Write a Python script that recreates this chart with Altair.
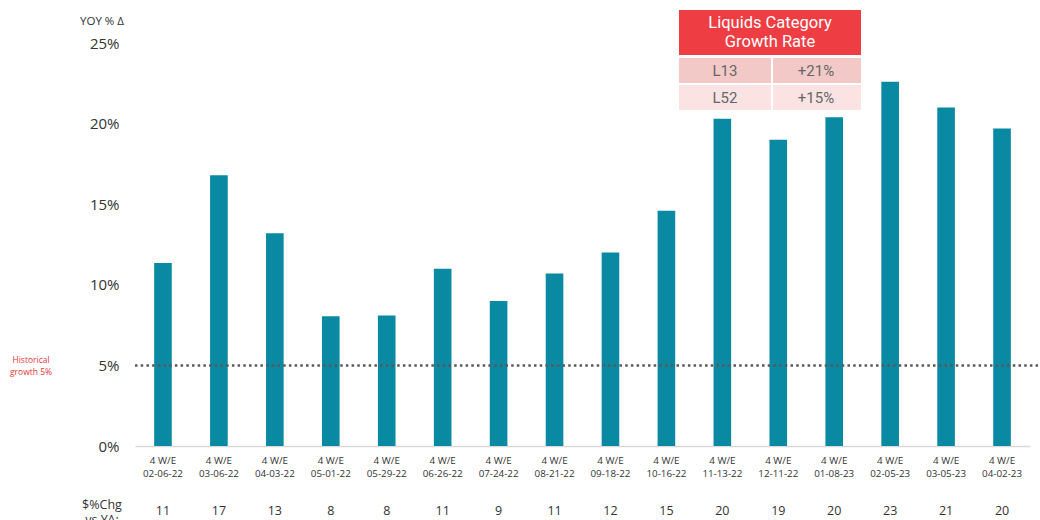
import altair as alt
import pandas as pd

# Four-week periods and year-over-year dollar growth (%)
periods = ["02-06-22", "03-06-22", "04-03-22", "05-01-22", "05-29-22", "06-26-22",
           "07-24-22", "08-21-22", "09-18-22", "10-16-22", "11-13-22", "12-11-22",
           "01-08-23", "02-05-23", "03-05-23", "04-02-23"]
growth = [11.35, 16.8, 13.2, 8.05, 8.1, 11.0, 9.0, 10.7, 12.0, 14.6,
          20.3, 19.0, 20.4, 22.6, 21.0, 19.7]
historical = 5
y_ticks = [0, 5, 10, 15, 20, 25]

# Summary table rows
table_periods = ["L13", "L52"]
table_rates = ["+21%", "+15%"]

df = pd.DataFrame({"period": periods, "growth": growth})

TEAL = "#0A89A3"
RED = "#EE3E43"
TEXT = "#333333"
FONT = "Open Sans"

x_enc = alt.X("period:N", sort=periods, title=None,
              scale=alt.Scale(paddingInner=0.685, paddingOuter=0.3425),
              axis=alt.Axis(labelAngle=0, labelExpr="['4 W/E', datum.label]",
                            labelFontSize=9.8, labelColor=TEXT, labelFont=FONT,
                            labelLineHeight=13, labelPadding=9, ticks=False,
                            domainColor="#D9D9D9", domainWidth=1.5))
y_enc = alt.Y("growth:Q", title=None,
              scale=alt.Scale(domain=[0, 25], nice=False),
              axis=alt.Axis(values=y_ticks, labelExpr="datum.value + '%'",
                            labelFontSize=15, labelColor=TEXT, labelFont=FONT,
                            labelPadding=16, ticks=False, domain=False, grid=False))

bars = alt.Chart(df).mark_bar(color=TEAL).encode(x=x_enc, y=y_enc)

# Historical growth reference line
hist_line = alt.Chart(pd.DataFrame({"h": [historical]})).mark_rule(
    color="#595959", strokeDash=[2.5, 3.2], strokeWidth=2.5
).encode(y=alt.Y("h:Q"), x=alt.value(0), x2=alt.value(905))

hist_label = alt.Chart(pd.DataFrame({"h": [historical]})).mark_text(
    color="#E8353B", fontSize=8.5, font=FONT, align="center", lineHeight=11.5,
    baseline="middle"
).encode(y=alt.Y("h:Q"), x=alt.value(-104), yOffset=alt.value(-5),
         text=alt.value(["Historical", "growth 5%"]))

# Row of rounded values under the periods
value_row = alt.Chart(df).mark_text(
    fontSize=12.5, color=TEXT, font=FONT, baseline="middle"
).encode(x=alt.X("period:N", sort=periods), y=alt.value(468),
         text=alt.Text("growth:Q", format=".0f"))

row_title = alt.Chart(pd.DataFrame({"t": [0]})).mark_text(
    fontSize=12.5, color=TEXT, font=FONT, baseline="middle", lineHeight=15
).encode(x=alt.value(-33), y=alt.value(462), text=alt.value(["$%Chg", "vs YA:"]))

y_title = alt.Chart(pd.DataFrame({"t": [0]})).mark_text(
    fontSize=11.5, color=TEXT, font=FONT, baseline="middle"
).encode(x=alt.value(-33), y=alt.value(-21), text=alt.value("YOY % Δ"))

# Growth-rate summary table
one = pd.DataFrame({"t": [0]})
header = alt.Chart(one).mark_rect(color=RED).encode(
    x=alt.value(544), x2=alt.value(726), y=alt.value(-33), y2=alt.value(12))
header_text = alt.Chart(one).mark_text(
    color="white", fontSize=16.5, font="Roboto", baseline="middle", lineHeight=18.5
).encode(x=alt.value(635), y=alt.value(-20),
         text=alt.value(["Liquids Category", "Growth Rate"]))

cells = []
row_colors = ["#F3C9C8", "#FBE3E3"]
row_tops = [15, 42]
for label, rate, color, top in zip(table_periods, table_rates, row_colors, row_tops):
    cells.append(alt.Chart(one).mark_rect(color=color).encode(
        x=alt.value(544), x2=alt.value(636), y=alt.value(top), y2=alt.value(top + 25)))
    cells.append(alt.Chart(one).mark_rect(color=color).encode(
        x=alt.value(638), x2=alt.value(726), y=alt.value(top), y2=alt.value(top + 25)))
    cells.append(alt.Chart(one).mark_text(
        color="#666666", fontSize=15, font="Roboto", baseline="middle"
    ).encode(x=alt.value(590), y=alt.value(top + 13), text=alt.value(label)))
    cells.append(alt.Chart(one).mark_text(
        color="#666666", fontSize=15, font="Roboto", baseline="middle"
    ).encode(x=alt.value(681), y=alt.value(top + 13), text=alt.value(rate)))

chart = alt.layer(
    bars, hist_line, hist_label, value_row, row_title, y_title,
    header, header_text, *cells
).properties(
    width=895, height=403,
    padding={"left": 135, "top": 43, "right": 10, "bottom": 74},
    autosize=alt.AutoSizeParams(type="none"),
    background="white",
).configure_view(stroke=None)

chart.save("out.html", embed_options={"renderer": "svg", "actions": False})
